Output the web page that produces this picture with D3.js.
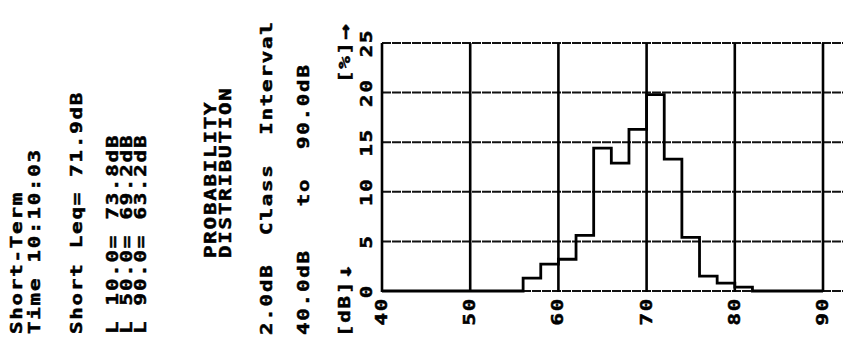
<!DOCTYPE html>
<html>
<head>
<meta charset="utf-8">
<title>Probability distribution</title>
<script src="https://cdn.jsdelivr.net/npm/d3@7"></script>
<style>
    body { margin: 0; background: #fff; }
    text { font-family: "DejaVu Sans Mono", monospace; font-weight: bold; fill: #000; white-space: pre; }
</style>
</head>
<body>
<svg id="chart" width="843" height="338"></svg>
<script>
    // printout text, read bottom to top
    const infoLines = [
        "Short-Term", "Time 10:10:03", "Short Leq= 71.9dB",
        "L 10.0= 73.8dB", "L 50.0= 69.2dB", "L 90.0= 63.2dB",
        "PROBABILITY", "DISTRIBUTION",
        "2.0dB  Class  Interval", "40.0dB   to  90.0dB"
    ];
    const xUnit = ["[dB]", "\u2193"];
    const yUnit = ["[%]", "\u2192"];

    // 2 dB classes, lower edge in dB
    const classStart = [40, 42, 44, 46, 48, 50, 52, 54, 56, 58, 60, 62, 64,
        66, 68, 70, 72, 74, 76, 78, 80, 82, 84, 86, 88];
    const percent = [0, 0, 0, 0, 0, 0, 0, 0, 1.3, 2.7, 3.2, 5.6, 14.4,
        12.9, 16.3, 19.8, 13.3, 5.4, 1.5, 0.8, 0.4, 0, 0, 0, 0];

    const dbTicks = [40, 50, 60, 70, 80, 90];
    const pctTicks = [0, 5, 10, 15, 20, 25];

    const svg = d3.select("#chart");
    const x = d3.scaleLinear().domain([40, 90]).range([382, 823]);
    const y = d3.scaleLinear().domain([0, 25]).range([291, 43]);

    // rotated printer text
    function put(str, px, py, anchor) {
        return svg.append("text")
            .attr("transform", "translate(" + px + "," + py + ") rotate(-90) scale(1.385,1)")
            .attr("font-size", 15)
            .attr("letter-spacing", 1.3)
            .attr("stroke", "#000")
            .attr("stroke-width", 0.5)
            .attr("text-anchor", anchor || "start")
            .text(str);
    }

    const lineX = [22, 40, 82, 118, 132, 146, 216, 231, 272, 309];
    const lineY = [334, 334, 334, 334, 334, 334, 258, 258, 335, 335];
    infoLines.forEach((s, i) => put(s, lineX[i], lineY[i]));

    [[xUnit, 337], [yUnit, 83]].forEach(([u, py]) => {
        const t = put(u[0], 350, py);
        t.append("tspan").attr("font-size", 19).attr("dy", 1).text(u[1]);
    });

    // grid: horizontal lines run off the right of the page
    svg.append("g")
        .selectAll("line")
        .data(pctTicks)
        .join("line")
        .attr("x1", x(40)).attr("x2", 843)
        .attr("y1", d => y(d)).attr("y2", d => y(d))
        .attr("stroke", "#111")
        .attr("stroke-width", 2)
        .attr("stroke-dasharray", "9,1");

    svg.append("g")
        .selectAll("line")
        .data(dbTicks)
        .join("line")
        .attr("x1", d => x(d)).attr("x2", d => x(d))
        .attr("y1", y(25)).attr("y2", y(0) + 1)
        .attr("stroke", "#000")
        .attr("stroke-width", 2.6);

    // tick labels
    pctTicks.forEach(d => put(String(d), 372, y(d), "middle"));
    dbTicks.forEach(d => put(String(d), x(d) + 5, 297, "end"));

    // histogram outline
    const pts = classStart.map((c, i) => [c, percent[i]]);
    pts.push([90, percent[percent.length - 1]]);
    const line = d3.line()
        .x(d => x(d[0]))
        .y(d => y(d[1]))
        .curve(d3.curveStepAfter);

    svg.append("path")
        .datum(pts)
        .attr("d", line)
        .attr("fill", "none")
        .attr("stroke", "#000")
        .attr("stroke-width", 2.8);
</script>
</body>
</html>
